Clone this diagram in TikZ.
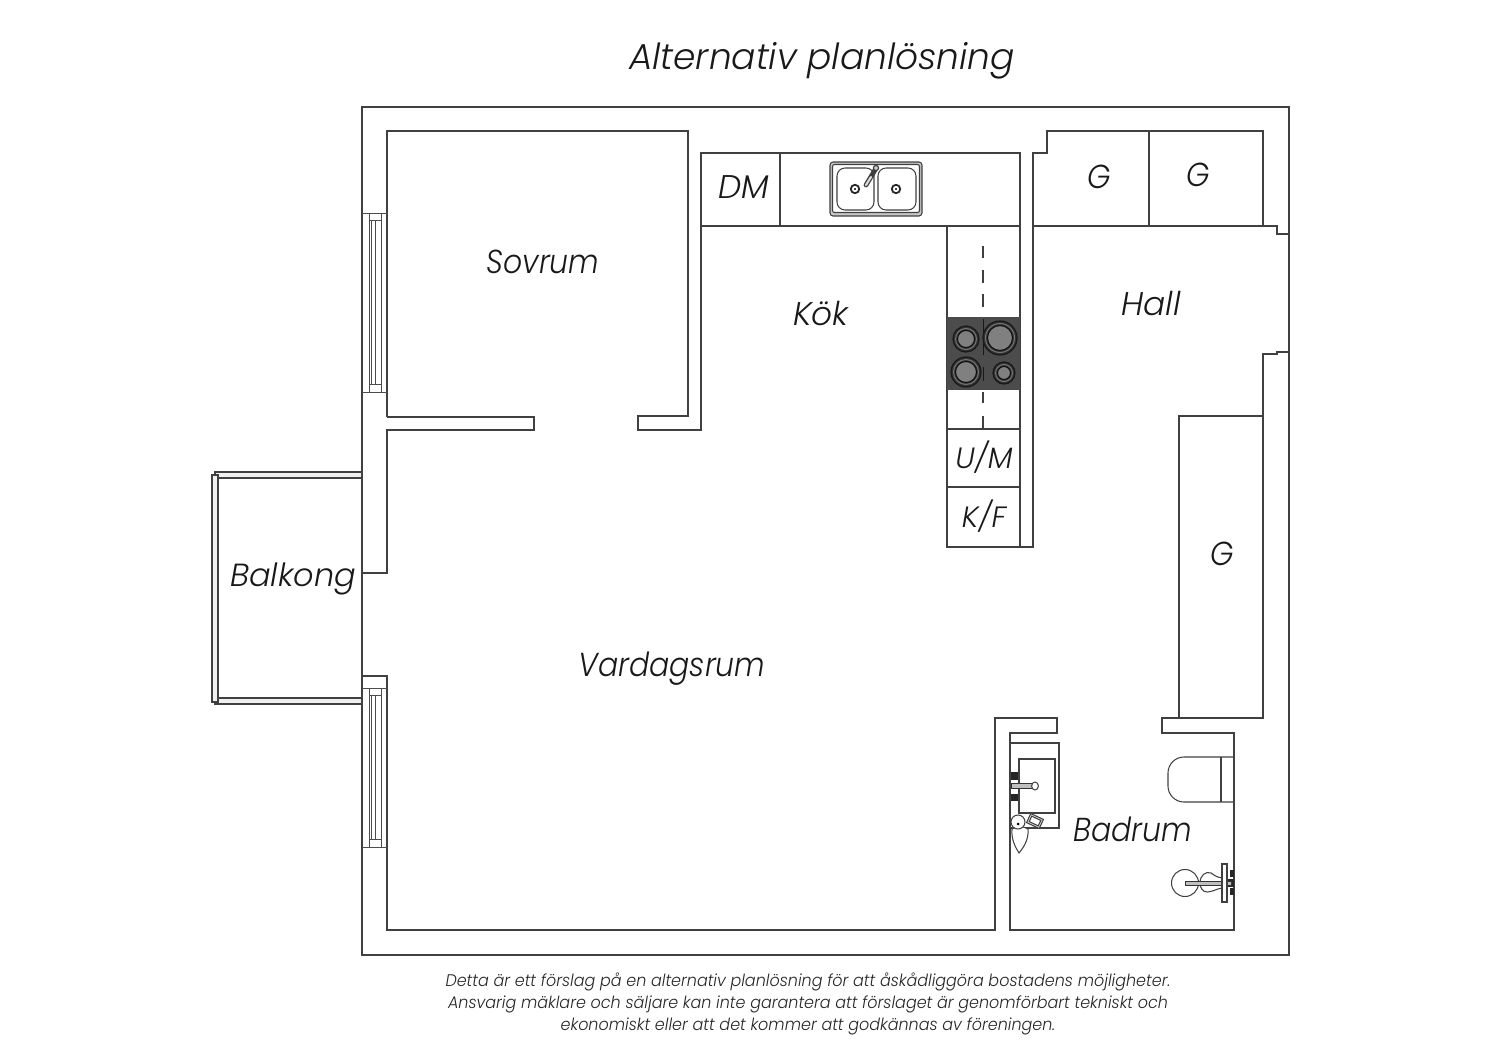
\documentclass[tikz,border=0pt]{standalone}
\usepackage{fontspec}
\newfontfamily\planfont{Poppins Light Italic}
\newfontfamily\roomfont[FakeStretch=0.9]{Poppins Light Italic}
\newfontfamily\notefont[FakeStretch=0.95]{Poppins Light Italic}
\usetikzlibrary{calc}
\usetikzlibrary{math}

\tikzset{
  wall/.style={line width=0.64pt, draw=black!75, line join=miter},
  thin wall/.style={line width=0.52pt, draw=black!75},
  glass/.style={line width=0.42pt, draw=black!70},
  room/.style={font=\roomfont\fontsize{16.6}{20}\selectfont, text=black!90, inner sep=0pt, anchor=base},
  short room/.style={font=\planfont\fontsize{16.4}{20}\selectfont, text=black!90, inner sep=0pt, anchor=base},
  store/.style={font=\planfont\fontsize{14.7}{18}\selectfont, text=black!90, inner sep=0pt, anchor=base},
  burner/.style={line width=0.6pt, draw=black!90, fill=black!50},
  pipe/.style={line width=0.45pt, draw=black!80, fill=black!25},
}

\begin{document}
\begin{tikzpicture}[x=0.5pt,y=-0.5pt]

  \tikzmath{
    \wallx = 362; % outer face of the left wall
    \roomx = 387; % inner face of the left wall
  }

  \useasboundingbox (0,0) rectangle (1500,1060);

  % Balcony rails
  \draw[wall,fill=black!6] (215,472) rectangle (\wallx,478);
  \draw[wall,fill=black!6] (215,698) rectangle (\wallx,704);
  \draw[wall,fill=black!6] (212,475) rectangle (218,702);

  % Outer walls
  \draw[wall] (\wallx,107) rectangle (1289,955);

  % Sovrum and Kok with the door opening
  \draw[wall] (\roomx,417) -- (\roomx,131) -- (688,131) -- (688,416) -- (638,416)
    -- (638,430) -- (701,430) -- (701,153) -- (1020,153) -- (1020,547) -- (1033,547)
    -- (1033,153) -- (1047,153) -- (1047,131) -- (1263,131) -- (1263,226) -- (1277,226)
    -- (1277,234) -- (1289,234);
  \draw[wall] (\roomx,417) -- (534,417) -- (534,430) -- (\roomx,430) -- (\roomx,573) -- (\wallx,573);

  % Vardagsrum, Hall and Badrum
  \draw[wall] (\wallx,676) -- (\roomx,676) -- (\roomx,930) -- (995,930) -- (995,718)
    -- (1057,718) -- (1057,733) -- (1010,733) -- (1010,930) -- (1234,930) -- (1234,733)
    -- (1162,733) -- (1162,718) -- (1263,718) -- (1263,354) -- (1277,354) -- (1277,352)
    -- (1289,352);

  % Windows
  \foreach \top/\bot in {213/392, 688/847} {
    \draw[glass] (\wallx,\top) -- (\roomx,\top);
    \draw[glass] (\wallx,\bot) -- (\roomx,\bot);
    \draw[glass] (369,\top) -- (369,\bot);
    \draw[glass] (381,\top) -- (381,\bot);
    \draw[glass] (369,\top+7) -- (381,\top+7);
    \draw[glass] (369,\bot-8) -- (381,\bot-8);
    \draw[glass] (371.5,\top+7) -- (371.5,\bot-8);
    \draw[glass] (375.5,\top+7) -- (375.5,\bot-8);
  }

  % Kitchen worktop
  \draw[thin wall] (701,226) -- (1020,226);
  \draw[thin wall] (780,153) -- (780,226);
  \draw[thin wall] (947,226) -- (947,547) -- (1020,547);
  \draw[thin wall] (947,429) -- (1020,429);
  \draw[thin wall] (947,487) -- (1020,487);
  \foreach \dasha/\dashb in {246/258, 270/283, 294/307, 392/403, 416/429} {
    \draw[thin wall] (983,\dasha) -- (983,\dashb);
  }

  % Sink
  \draw[thin wall,rounded corners=1.5pt,fill=black!22] (830,162) rectangle (922,216);
  \draw[thin wall,rounded corners=1pt,fill=white] (832.5,164.5) rectangle (919.5,212.5);
  \draw[thin wall,rounded corners=4pt] (837,168) rectangle (874,210);
  \draw[thin wall,rounded corners=4pt] (878,168) rectangle (916,210);
  \foreach \drainx in {855,896} {
    \draw[line width=0.9pt,draw=black!85] (\drainx,189) circle (4.2);
    \fill (\drainx,189) circle (1.2);
  }
  \draw[line width=2.4pt,draw=black!75,line cap=round] (875,170) -- (866,185);
  \draw[line width=1.1pt,draw=black!15,line cap=round] (871,177) -- (866,185);
  \draw[line width=0.6pt,draw=black!75,fill=black!20] (876,168) circle (2.6);

  % Hob
  \fill[black!70] (947,317) rectangle (1020,390);
  \draw[line width=0.5pt,draw=black!90] (983,319) -- (983,355);
  \draw[line width=0.5pt,draw=black!90] (983,367) -- (983,381);
  \foreach \burnx/\burny/\burnr in {966/339/13, 1000/338/17, 966/372/15, 1004/373/11} {
    \draw[burner,fill=black!80] (\burnx,\burny) circle (\burnr);
    \draw[line width=0.5pt,draw=black!55] (\burnx,\burny) circle ({\burnr-2.5});
    \draw[line width=0.5pt,draw=black!95,fill=black!50] (\burnx,\burny) circle ({\burnr-4.5});
  }

  % Storage
  \draw[thin wall] (1033,226) -- (1263,226);
  \draw[thin wall] (1149,131) -- (1149,226);
  \draw[thin wall] (1179,718) -- (1179,416) -- (1263,416);

  % Bathroom basin
  \draw[thin wall] (1010,743) -- (1059,743) -- (1059,828) -- (1010,828);
  \draw[thin wall] (1019,759) rectangle (1055,813);
  \fill[black!85] (1011,772) rectangle (1018,780);
  \fill[black!85] (1011,794) rectangle (1018,801);
  \draw[pipe] (1011,783.5) rectangle (1032,788.5);
  \draw[thin wall,fill=white] (1035,786) ellipse (3.4 and 4);

  % Shower head and soap
  \draw[thin wall,fill=white] (1012,829) .. controls (1011,840) and (1016,848) .. (1019,853)
    .. controls (1023,848) and (1029,840) .. (1028,829) .. controls (1024,826) and (1016,826) .. (1012,829);
  \draw[thin wall,fill=white] (1018,822) circle (7);
  \draw[thin wall,fill=black!15,rotate around={-25:(1035,821)}] (1028,816) rectangle (1042,826);
  \draw[thin wall,fill=white,rotate around={-25:(1035,821)}] (1030,818) rectangle (1040,824);
  \fill (1018,824) circle (1.5);

  % Toilet
  \draw[thin wall,rounded corners=8pt] (1234,757) -- (1168,757) -- (1168,802) -- (1234,802);
  \draw[thin wall] (1221,757) -- (1221,802);

  % Wall mounted fitting
  \draw[thin wall] (1185,883) circle (13.5);
  \draw[thin wall,fill=white] (1200,883) .. controls (1200,875) and (1206,871) .. (1211,873)
    .. controls (1214,875) and (1216,877) .. (1222,878) -- (1222,888)
    .. controls (1216,889) and (1212,892) .. (1207,892) .. controls (1203,892) and (1200,888) .. (1200,883);
  \fill[black!85] (1230,870) rectangle (1234,877);
  \fill[black!85] (1230,888) rectangle (1234,895);
  \fill[black!85] (1227,879) rectangle (1234,887);
  \draw[pipe] (1185,881) rectangle (1231,885);
  \draw[thin wall,fill=white] (1222,864) rectangle (1227,902);

  % Labels
  \node (title) at (822,69) [anchor=base, font=\planfont\fontsize{18}{22}\selectfont, text=black!90, inner sep=0pt] {Alternativ planlösning};
  \node[room] (sovrum) at (543,273) {Sovrum};
  \node[short room] (kok) at (821,325) {Kök};
  \node[short room] (hall) at (1151,315) {Hall};
  \node[short room,font=\planfont\fontsize{16}{20}\selectfont] (balkong) at (293,586) {Balkong};
  \node[room] (vardagsrum) at (672,676) {Vardagsrum};
  \node[room] (badrum) at (1132.5,841) {Badrum};
  \node[short room] (dm) at (743.5,198) {DM};
  \node[room] (gleft) at (1099,188) {G};
  \node[room] (gright) at (1198,186) {G};
  \node[room] (gtall) at (1222,565) {G};
  \node[store] (um) at (984,468) {U/M};
  \node[store] (kf) at (984,527) {K/F};

  % Disclaimer
  \node (note) at (808,1002) [align=center, inner sep=0pt, font=\notefont\fontsize{8.4}{11}\selectfont, text=black!85, yshift=-1pt]
    {Detta är ett förslag på en alternativ planlösning för att åskådliggöra bostadens möjligheter.\\
     Ansvarig mäklare och säljare kan inte garantera att förslaget är genomförbart tekniskt och\\
     ekonomiskt eller att det kommer att godkännas av föreningen.};

\end{tikzpicture}
\end{document}
